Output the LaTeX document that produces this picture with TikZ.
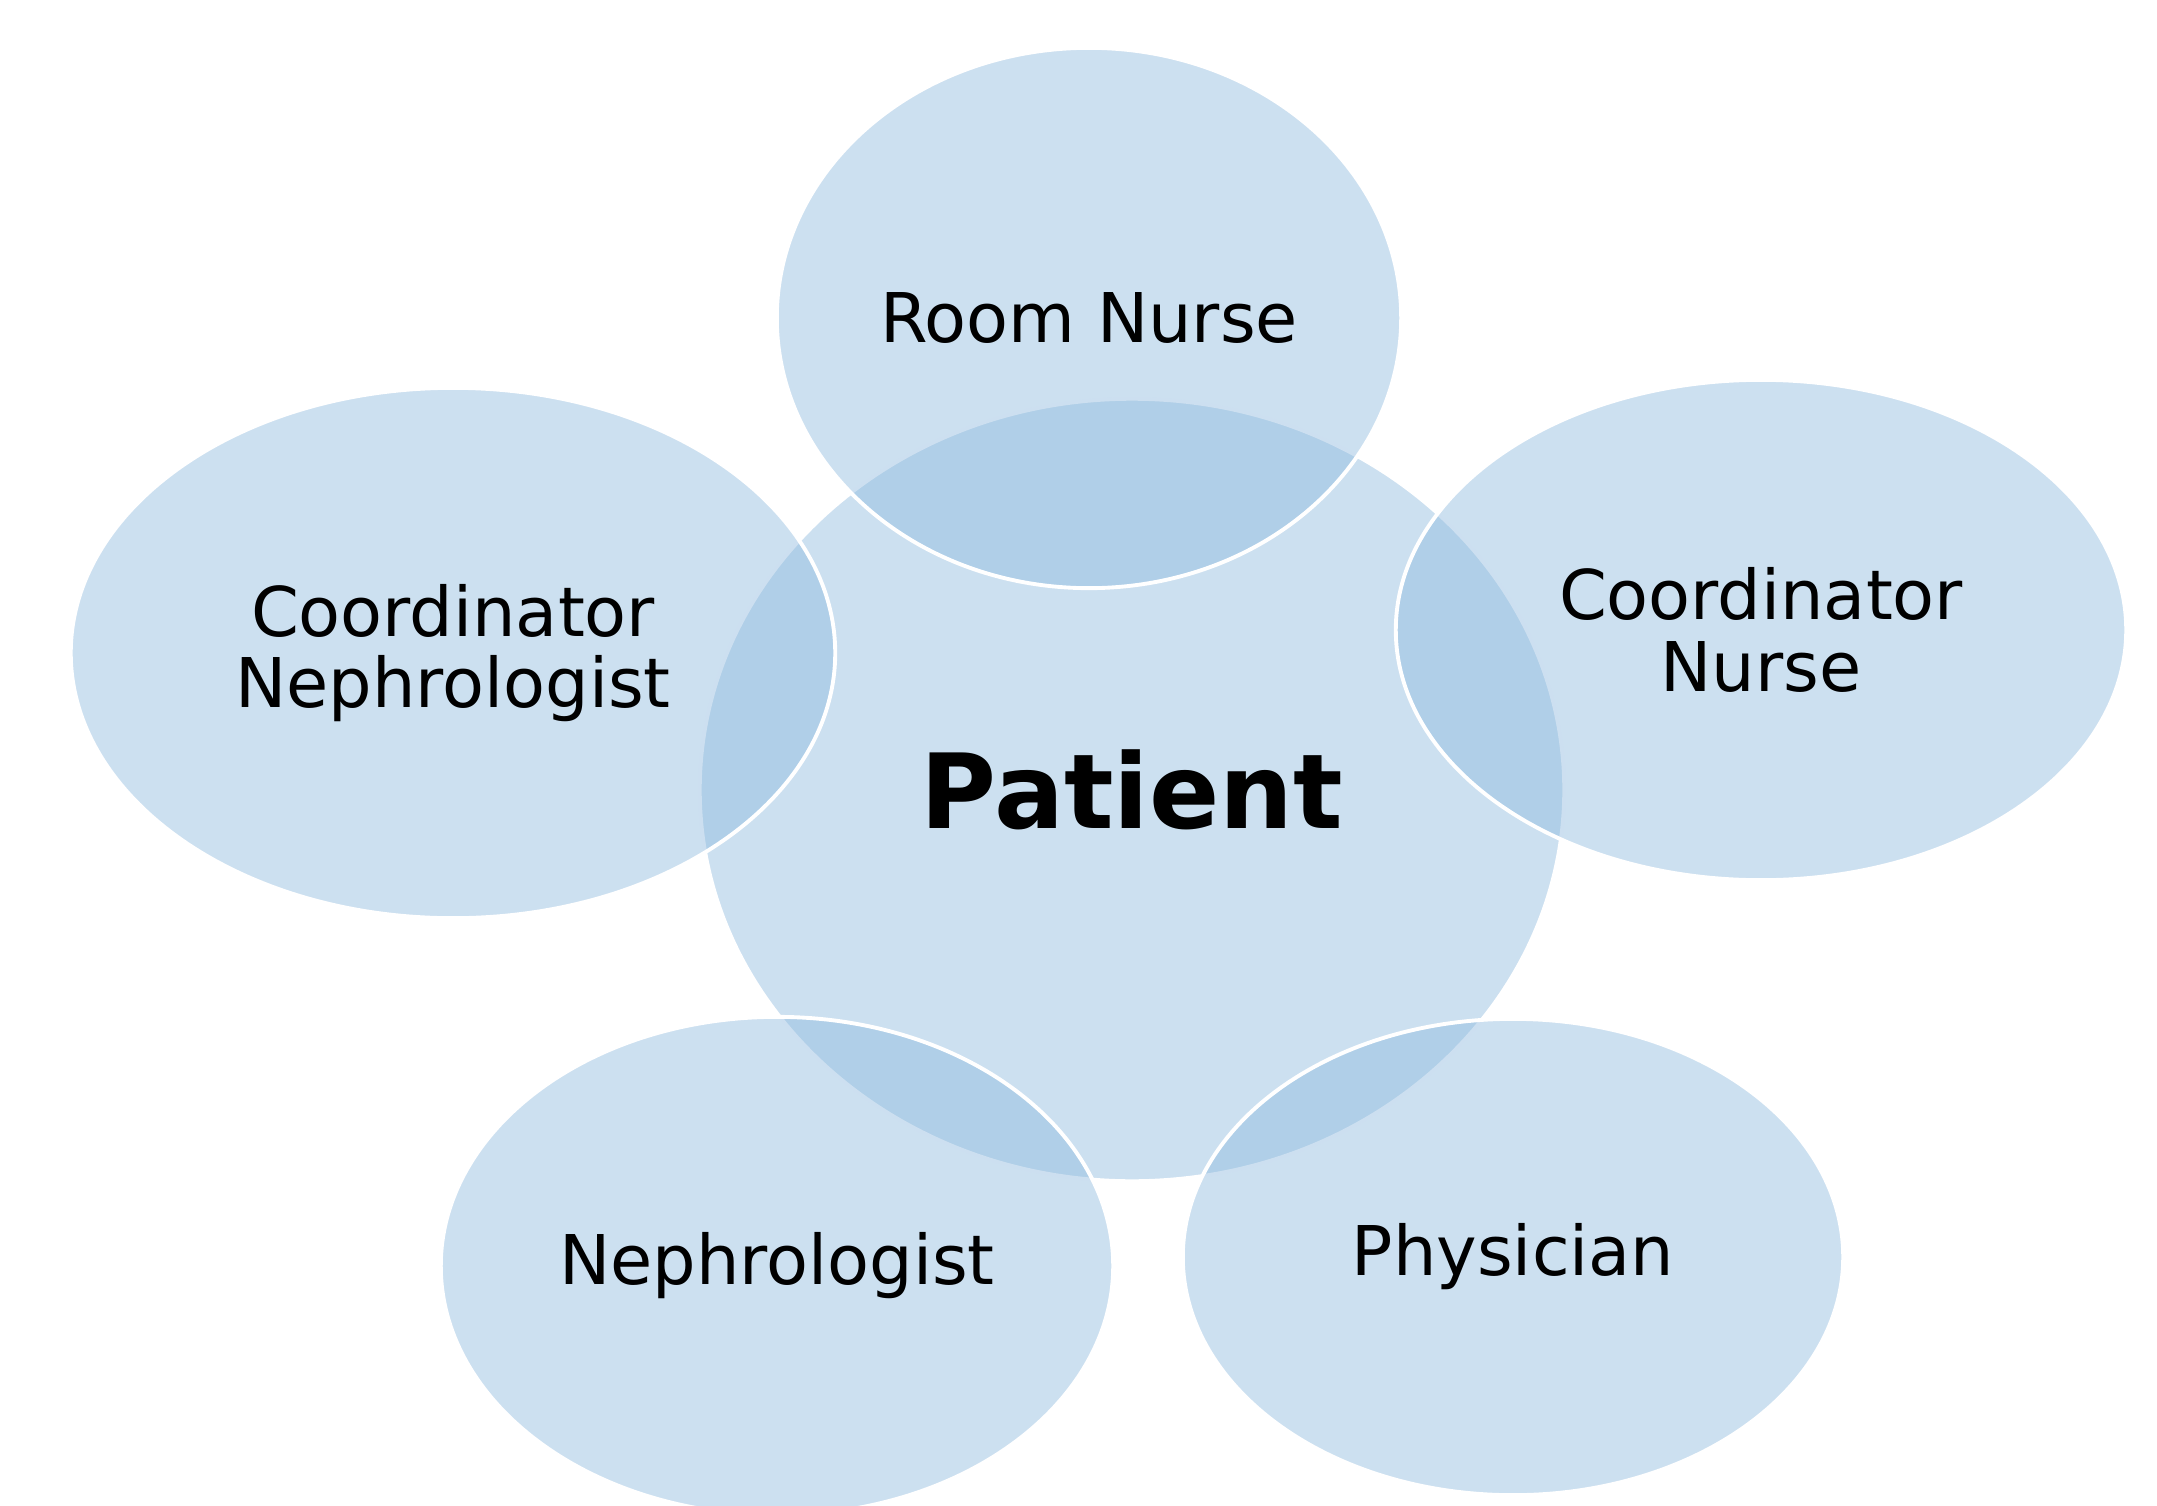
\documentclass[tikz,border=0pt]{standalone}
\usepackage{fontspec}
\setmainfont{DejaVu Sans}
\usetikzlibrary{shapes.geometric}
\definecolor{roleblue}{RGB}{142,186,222}
\begin{document}
\begin{tikzpicture}[x=0.01cm,y=-0.01cm]
    \tikzstyle{role} = [ shape=ellipse, draw=white, line width=1.1pt, fill=roleblue, fill opacity=0.45, text opacity=1, inner sep=0pt, align=center, font=\fontsize{19.5}{20.3}\selectfont ];

    \useasboundingbox (0,0) rectangle (2157,1506);
    \node (nPatient) [role, minimum width=8.64cm, minimum height=7.82cm, font=\fontsize{29.5}{32}\selectfont\bfseries] at (1132,790) {Patient};
    \node (nRoomNurse) [role, minimum width=6.24cm, minimum height=5.40cm] at (1089,318) {Room Nurse};
    \node (nCoordNurse) [role, minimum width=7.30cm, minimum height=5.00cm] at (1761,630) {Coordinator\\Nurse};
    \node (nPhysician) [role, minimum width=6.60cm, minimum height=4.76cm] at (1513,1257) {Physician};
    \node (nNephrologist) [role, minimum width=6.72cm, minimum height=4.98cm] at (777,1266) {Nephrologist};
    \node (nCoordNephro) [role, minimum width=7.64cm, minimum height=5.30cm] at (453,653) {Coordinator\\Nephrologist};
\end{tikzpicture}
\end{document}
